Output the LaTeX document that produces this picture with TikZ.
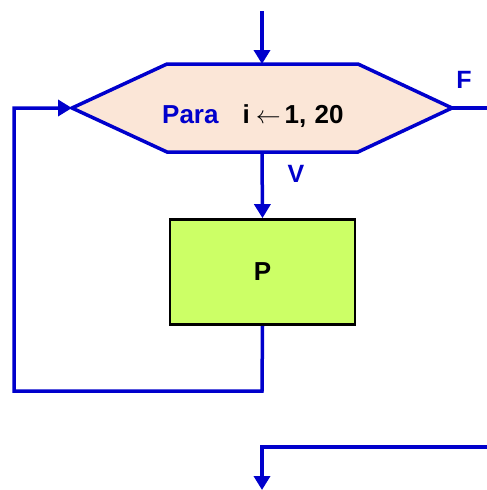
\documentclass[tikz,border=0pt]{standalone}
\usepackage{fontspec}
\setmainfont{Liberation Sans}
\usetikzlibrary{arrows.meta}
\definecolor{flowblue}{RGB}{0,0,204}
\definecolor{hexfill}{RGB}{251,230,215}
\definecolor{boxfill}{RGB}{204,255,102}
\tikzset{
  flow/.style={draw=flowblue, line width=3.5pt, line join=miter},
  flowarrow/.style={flow, -{Triangle[width=16pt,length=14pt]}},
  hexshape/.style={draw=flowblue, line width=3.5pt, fill=hexfill, line join=miter},
  procbox/.style={draw=black, line width=2.7pt, fill=boxfill, minimum width=185pt, minimum height=105pt, inner sep=0pt, font=\bfseries\fontsize{26}{28}\selectfont},
  lbl/.style={text=flowblue, font=\bfseries\fontsize{25}{27}\selectfont, inner sep=0pt}
}
\begin{document}
\begin{tikzpicture}[x=1pt,y=-1pt]
\useasboundingbox (0,0) rectangle (487,490);
% hexagon
\coordinate (hexL) at (72,108);
\coordinate (hexR) at (452,108);
\coordinate (hexT) at (262,64);
\coordinate (hexB) at (262,152);
\path[hexshape] (72,108) -- (167,64) -- (358,64) -- (452,108) -- (358,152) -- (167,152) -- cycle;
\node[inner sep=0pt, anchor=base west, font=\bfseries\fontsize{26}{28}\selectfont] (hextext) at (162,123)
  {\textcolor{flowblue}{Para}\hspace{24pt}i\hspace{6pt}$\leftarrow$\hspace{4pt}1,\hspace{1pt} 20};
% process box
\node[procbox] (P) at (262.5,272) {P};
% labels
\node[lbl] (F) at (464,80) {F};
\node[lbl] (V) at (296,174) {V};
% coordinates
\coordinate (start) at (262,11);
\coordinate (loopBR) at (262,391);
\coordinate (loopBL) at (14,391);
\coordinate (loopTL) at (14,108);
\coordinate (exitR) at (487,108);
\coordinate (retR) at (487,447);
\coordinate (retC) at (262,447);
\coordinate (endpt) at (262,490);
% connectors
\draw[flowarrow] (start) -- (hexT);
\draw[flowarrow] (hexB) -- (P.north);
\draw[flowarrow] (P.south) -- (loopBR) -- (loopBL) -- (loopTL) -- (hexL);
\draw[flow] (hexR) -- (exitR);
\draw[flowarrow] (retR) -- (retC) -- (endpt);
\end{tikzpicture}
\end{document}
